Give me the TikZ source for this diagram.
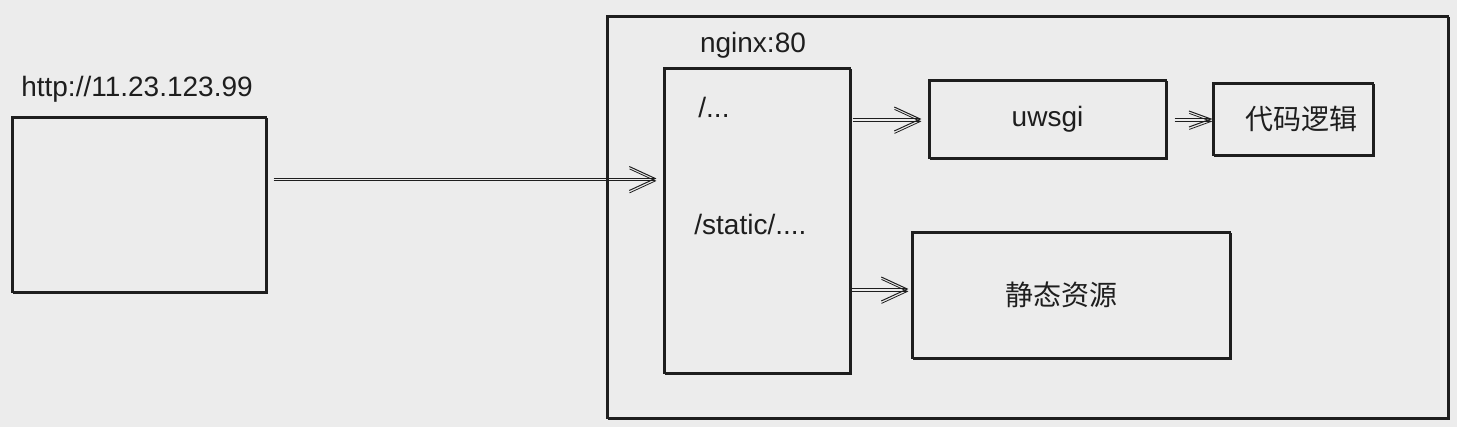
\documentclass[tikz,border=0pt]{standalone}
\usepackage{fontspec}
\setmainfont{Liberation Sans}
\newfontfamily\cjk{Noto Sans CJK SC}
\usetikzlibrary{positioning}
\usetikzlibrary{arrows.meta}
\definecolor{bgColor}{HTML}{ECECEC}
\definecolor{inkColor}{HTML}{1E1E1E}

\begin{document}
\begin{tikzpicture}[x=0.5pt,y=-0.5pt]

            \tikzstyle{sketch} = [draw=inkColor, line width=0.55pt, inner sep=0pt,
                postaction={draw=inkColor, line width=0.4pt, transform canvas={xshift=0.7pt,yshift=-0.6pt}}];
            \tikzstyle{lbl} = [font=\fontsize{14pt}{16pt}\selectfont, text=inkColor, inner sep=0pt];
            \tikzstyle{flow} = [draw=inkColor, line width=0.5pt, -{Straight Barb[length=13pt,width=12pt]},
                postaction={draw=inkColor, line width=0.4pt, transform canvas={yshift=-1.2pt}}];

            \fill[bgColor] (0,0) rectangle (1457,427);

            \node[sketch, minimum width=420.5pt, minimum height=201pt] (server) at (1027.5,217) {};
            \node[sketch, minimum width=127pt, minimum height=87.5pt] (client) at (139,204.5) {};
            \node[sketch, minimum width=93pt, minimum height=152.5pt] (nginx) at (757,220.5) {};
            \node[sketch, lbl, minimum width=118.5pt, minimum height=39pt] (uwsgi) at (1047.5,119) {uwsgi};
            \node[sketch, lbl, minimum width=80pt, minimum height=36pt] (code) at (1293,119) {\hspace{8pt}\cjk 代码逻辑};
            \node[sketch, lbl, minimum width=159pt, minimum height=63pt] (static) at (1071,295) {\hspace{-10pt}\cjk 静态资源};

            \node[lbl, anchor=base] (addr) at (137,97) {http://11.23.123.99};
            \node[lbl, anchor=base] (port) at (753,53) {nginx:80};
            \node[lbl, anchor=base west] (root) at (698,118) {/...};
            \node[lbl, anchor=base west] (assets) at (694,235) {/static/....};

            \draw[flow, shorten <=3.5pt, shorten >=3.5pt] ([yshift=13pt]client.east) -- ([yshift=13pt]client.east -| nginx.west);
            \draw[flow, shorten <=1pt, shorten >=3.5pt] (nginx.east |- uwsgi.west) -- (uwsgi.west);
            \draw[flow, shorten <=4pt, -{Straight Barb[length=11pt,width=8pt]}] (uwsgi.east) -- (code.west);
            \draw[flow, shorten >=1.5pt] ([yshift=3pt]nginx.east |- static.west) -- ([yshift=3pt]static.west);
          \end{tikzpicture}
\end{document}
